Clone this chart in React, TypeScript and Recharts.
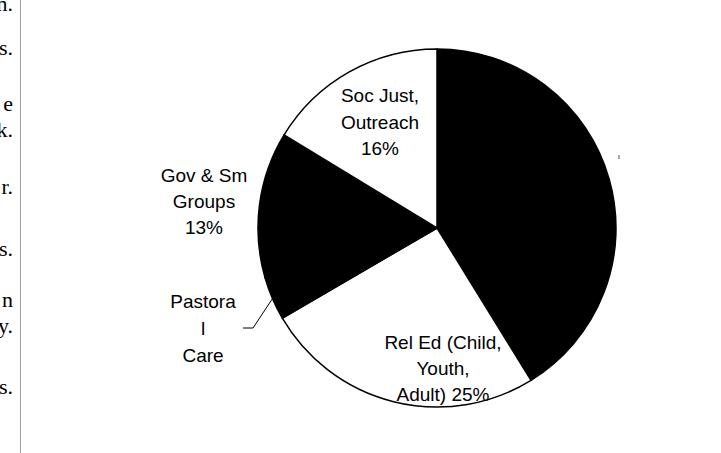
import { PieChart, Pie, Cell } from "recharts"

const categories = ["Worship", "Rel Ed (Child, Youth, Adult)", "Pastoral Care", "Gov & Sm Groups", "Soc Just, Outreach"]
const values = [41.2, 25.4, 3.9, 13.2, 16.3]
// label text as it wraps in the picture; {p} becomes the rounded percent
const labelLines = [
  [],
  ["Rel Ed (Child,", "Youth,", "Adult) {p}"],
  ["Pastora", "l", "Care"],
  ["Gov & Sm", "Groups", "{p}"],
  ["Soc Just,", "Outreach", "{p}"],
]
const fills = ["#000", "#fff", "#000", "#000", "#fff"]

// clipped text of the page column on the left
const sideText = ["n.", "s.", "e", "k.", "r.", "s.", "n", "y.", "s."]
const sideTextY = [11, 55, 111, 137, 194, 256, 307, 333, 394]

// where each label's first baseline sits, relative to the pie centre
const labelOffset = [
  [0, 0],
  [6, 121],
  [-234, 80],
  [-233, -46],
  [-57, -126],
]
const lineGap = [26.5, 26, 27, 26, 26.5]

const data = categories.map((name, i) => ({ name, value: values[i] }))
const total = values.reduce((a, b) => a + b, 0)
const RADIAN = Math.PI / 180

const renderLabel = (props: any) => {
  const { cx, cy, index, midAngle, outerRadius } = props
  if (index === 0) {
    return (
      <line x1={cx + 182} y1={cy - 73} x2={cx + 182} y2={cy - 69} stroke="#555" strokeWidth={1} />
    )
  }
  const pct = `${Math.round((values[index] / total) * 100)}%`
  const [dx, dy] = labelOffset[index]
  const x = cx + dx
  const y = cy + dy
  const lines = labelLines[index].map((l) => l.replace("{p}", pct))
  let leader = null
  if (index === 2) {
    const ex = cx + outerRadius * Math.cos(-midAngle * RADIAN)
    const ey = cy + outerRadius * Math.sin(-midAngle * RADIAN)
    leader = (
      <polyline
        points={`${cx - 194},${cy + 100} ${cx - 184},${cy + 100} ${ex},${ey}`}
        fill="none"
        stroke="#000"
        strokeWidth={1}
      />
    )
  }
  return (
    <g>
      {leader}
      <text x={x} y={y} textAnchor="middle" fill="#000" fontSize={19} fontFamily="'Liberation Sans', Arial, sans-serif">
        {lines.map((l, i) => (
          <tspan key={i} x={x} y={y + i * lineGap[index]}>
            {l}
          </tspan>
        ))}
      </text>
    </g>
  )
}

export default function App() {
  return (
    <div style={{ position: "absolute", left: 0, top: 0, width: 721, height: 453, background: "#fff" }}>
      <svg width={721} height={453} style={{ position: "absolute", left: 0, top: 0 }}>
        {sideText.map((t, i) => (
          <text key={i} x={13} y={sideTextY[i]} textAnchor="end" fontSize={22} fontFamily="'Liberation Serif', 'Times New Roman', serif" fill="#000">
            {t}
          </text>
        ))}
        <line x1={20.5} y1={0} x2={20.5} y2={453} stroke="#a0a0a0" strokeWidth={1} />
      </svg>
      <div style={{ position: "absolute", left: 0, top: 0 }}>
        <PieChart width={721} height={453} margin={{ top: 0, right: 0, bottom: 0, left: 0 }}>
          <Pie
            data={data}
            dataKey="value"
            nameKey="name"
            cx={437}
            cy={228}
            outerRadius={179}
            startAngle={90}
            endAngle={-270}
            stroke="#000"
            strokeWidth={1.5}
            label={renderLabel}
            labelLine={false}
            isAnimationActive={false}
          >
            {data.map((d, i) => (
              <Cell key={d.name} fill={fills[i]} />
            ))}
          </Pie>
        </PieChart>
      </div>
    </div>
  )
}
